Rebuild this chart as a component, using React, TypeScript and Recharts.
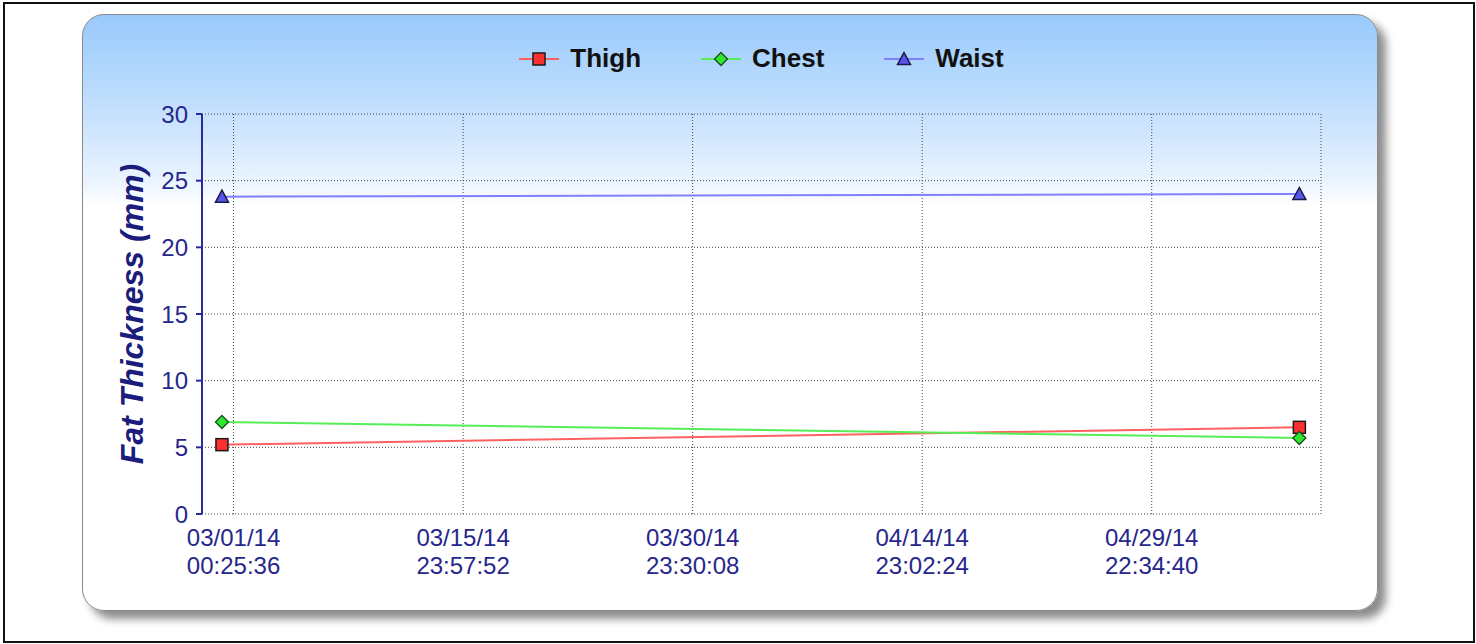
import { CartesianGrid, Legend, Line, LineChart, XAxis, YAxis } from "recharts";

// measurements (mm) taken on two dates
const sampleDates = ["2014-02-28T06:15:00Z", "2014-05-09T13:50:00Z"];
const thigh = [5.2, 6.5];
const chest = [6.9, 5.7];
const waist = [23.8, 24.0];

const tickDates = [
  "2014-03-01T00:25:36Z",
  "2014-03-15T23:57:52Z",
  "2014-03-30T23:30:08Z",
  "2014-04-14T23:02:24Z",
  "2014-04-29T22:34:40Z",
];
const yTicks = [0, 5, 10, 15, 20, 25, 30];
const xRange = ["2014-02-26T23:00:00Z", "2014-05-10T23:42:00Z"];
const seriesOrder = ["thigh", "chest", "waist"];

const rows = sampleDates.map((d, i) => ({
  t: Date.parse(d),
  thigh: thigh[i],
  chest: chest[i],
  waist: waist[i],
}));

const FONT = '"Liberation Sans", Arial, sans-serif';
const NAVY = "#26268c";

type Kind = "square" | "diamond" | "triangle";
const markerKind: Record<string, Kind> = {
  thigh: "square",
  chest: "diamond",
  waist: "triangle",
};

function Marker({ kind, cx, cy }: { kind: Kind; cx: number; cy: number }) {
  if (kind === "square") {
    return (
      <rect x={cx - 6} y={cy - 6} width={12} height={12} fill="#ff3030" stroke="#1a1a1a" strokeWidth={1.5} />
    );
  }
  if (kind === "diamond") {
    return (
      <polygon
        points={`${cx},${cy - 6.5} ${cx + 6.5},${cy} ${cx},${cy + 6.5} ${cx - 6.5},${cy}`}
        fill="#2ee82e"
        stroke="#1f4a1f"
        strokeWidth={1.3}
      />
    );
  }
  return (
    <polygon
      points={`${cx},${cy - 6.5} ${cx + 6.5},${cy + 5.5} ${cx - 6.5},${cy + 5.5}`}
      fill="#5555ee"
      stroke="#1a1a40"
      strokeWidth={1.5}
    />
  );
}

function dotFor(kind: Kind) {
  return (p: any) => <Marker key={`${kind}-${p.index}`} kind={kind} cx={p.cx} cy={p.cy} />;
}

const pad = (n: number) => String(n).padStart(2, "0");

function TimeTick({ x, y, payload }: any) {
  const d = new Date(payload.value);
  const date = `${pad(d.getUTCMonth() + 1)}/${pad(d.getUTCDate())}/${pad(d.getUTCFullYear() % 100)}`;
  const time = `${pad(d.getUTCHours())}:${pad(d.getUTCMinutes())}:${pad(d.getUTCSeconds())}`;
  return (
    <text x={x} y={y} textAnchor="middle" fill={NAVY} fontSize={24} fontFamily={FONT}>
      <tspan x={x} dy={32}>{date}</tspan>
      <tspan x={x} dy={28}>{time}</tspan>
    </text>
  );
}

function LegendRow({ payload }: any) {
  const items = [...(payload || [])].sort(
    (a: any, b: any) => seriesOrder.indexOf(a.dataKey) - seriesOrder.indexOf(b.dataKey)
  );
  return (
    <div style={{ display: "flex", justifyContent: "center", alignItems: "center", gap: 60 }}>
      {items.map((entry: any) => (
        <div key={entry.value} style={{ display: "flex", alignItems: "center" }}>
          <svg width={40} height={20} style={{ marginRight: 11 }}>
            <line x1={0} y1={10} x2={40} y2={10} stroke={entry.color} strokeWidth={2} />
            <Marker kind={markerKind[entry.dataKey]} cx={20} cy={10} />
          </svg>
          <span style={{ fontFamily: FONT, fontWeight: 700, fontSize: 26, color: "#111" }}>{entry.value}</span>
        </div>
      ))}
    </div>
  );
}

export default function App() {
  return (
    <div style={{ position: "absolute", left: 0, top: 0, width: 1476, height: 644, background: "#fff" }}>
      <div
        style={{
          position: "absolute",
          left: 3,
          top: 2,
          width: 1472,
          height: 641,
          border: "2px solid #111",
          boxSizing: "border-box",
        }}
      />
      <div
        style={{
          position: "absolute",
          left: 82,
          top: 14,
          width: 1296,
          height: 597,
          borderRadius: 22,
          border: "1.5px solid #8a8a8a",
          boxSizing: "border-box",
          background:
            "linear-gradient(to bottom, #99c9fc 0%, #b3d8fd 10%, #d0e6fe 20%, #eef6ff 29%, #ffffff 32%, #ffffff 100%)",
          boxShadow: "8px 8px 9px rgba(0,0,0,0.45)",
        }}
      />
      <div style={{ position: "absolute", left: 0, top: 0 }}>
        <LineChart width={1476} height={644} data={rows} margin={{ top: 114, right: 155, bottom: 60, left: 62 }}>
          <CartesianGrid stroke="#444" strokeDasharray="1 2" />
          <XAxis
            dataKey="t"
            type="number"
            domain={xRange.map((d) => Date.parse(d))}
            ticks={tickDates.map((d) => Date.parse(d))}
            interval={0}
            axisLine={false}
            tickLine={false}
            tickSize={0}
            tickMargin={0}
            height={70}
            tick={<TimeTick />}
          />
          <YAxis
            domain={[0, 30]}
            ticks={yTicks}
            interval={0}
            width={140}
            axisLine={{ stroke: "#2a2aa0", strokeWidth: 2 }}
            tickLine={{ stroke: "#2a2aa0", strokeWidth: 2 }}
            tickSize={6}
            tickMargin={8}
            tick={{ fill: NAVY, fontSize: 24, fontFamily: FONT }}
            label={{
              value: "Fat Thickness (mm)",
              angle: -90,
              position: "center",
              fill: "#1c1c7c",
              fontSize: 32,
              fontWeight: 700,
              fontStyle: "italic",
              fontFamily: FONT,
            }}
          />
          <Legend
            layout="horizontal"
            align="center"
            verticalAlign="middle"
            wrapperStyle={{ top: 43, left: 202, width: 1119 }}
            content={<LegendRow />}
          />
          <Line
            type="linear"
            dataKey="thigh"
            name="Thigh"
            stroke="#ff6060"
            strokeWidth={2}
            dot={dotFor("square")}
            isAnimationActive={false}
          />
          <Line
            type="linear"
            dataKey="chest"
            name="Chest"
            stroke="#55ee55"
            strokeWidth={2}
            dot={dotFor("diamond")}
            isAnimationActive={false}
          />
          <Line
            type="linear"
            dataKey="waist"
            name="Waist"
            stroke="#8080ff"
            strokeWidth={2}
            dot={dotFor("triangle")}
            isAnimationActive={false}
          />
        </LineChart>
      </div>
    </div>
  );
}
